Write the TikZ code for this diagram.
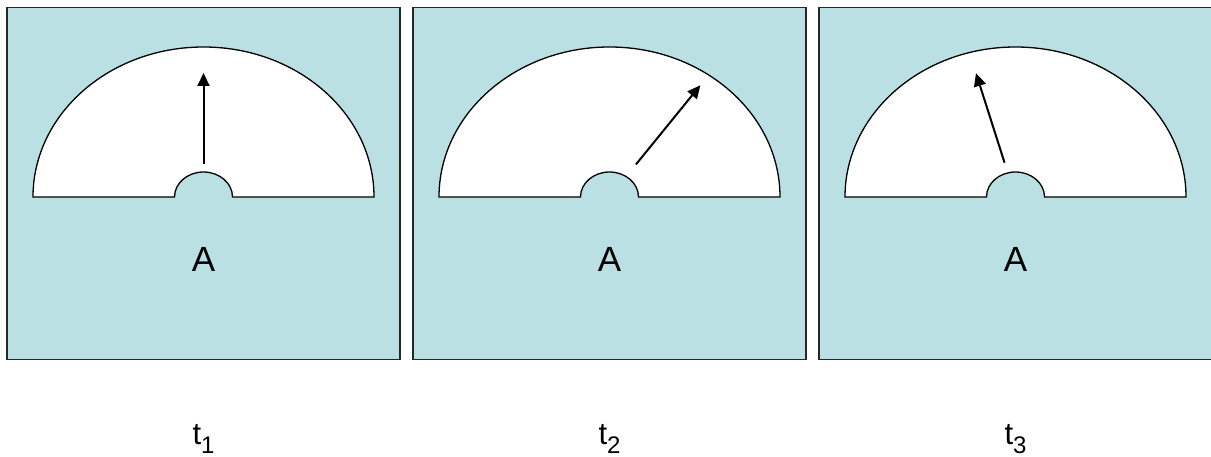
\documentclass[tikz,border=0pt]{standalone}
\usepackage{fontspec}
\setmainfont{Liberation Sans}
\usetikzlibrary{arrows.meta}
\definecolor{dialbg}{RGB}{187,224,227}

\begin{document}
\begin{tikzpicture}[x=1pt,y=1pt,
    panel/.style={draw=black!85,line width=1.6pt,fill=dialbg},
    dial/.style={draw=black,line width=1.3pt,fill=white},
    needle/.style={line width=2pt,-{Triangle[length=13pt,width=12pt]}}]
  \useasboundingbox (0,0) rectangle (1211,457);
  \foreach \i/\cx/\ang/\ra/\rb in {1/203.5/90/33/124, 2/609.5/50.9/42/144, 3/1015.5/107.7/36/130}{
    % Meter casing.
    \draw[panel] (\cx-196.5,97.5) rectangle (\cx+196.5,449.5);

    % Half-round scale with the pivot cut-out.
    \draw[dial] (\cx-170.5,260) arc[start angle=180,end angle=0,x radius=170.5,y radius=150]
      -- (\cx+29,260) arc[start angle=0,end angle=180,x radius=29,y radius=25] -- cycle;

    % Pointer.
    \coordinate (pivot\i) at (\cx,260);
    \coordinate (base\i) at ([shift={(\ang:\ra)}]pivot\i);
    \coordinate (tip\i) at ([shift={(\ang:\rb)}]pivot\i);
    \draw[needle] (base\i) -- (tip\i);

    % Unit and time labels.
    \node[anchor=base,font=\fontsize{35}{35}\selectfont] (unit\i) at (\cx,185) {A};
    \node[anchor=base,inner sep=0pt] (time\i) at (\cx,12) {\fontsize{31}{31}\selectfont t\raisebox{-9pt}{\fontsize{24}{24}\selectfont \i}};
  }
\end{tikzpicture}
\end{document}
